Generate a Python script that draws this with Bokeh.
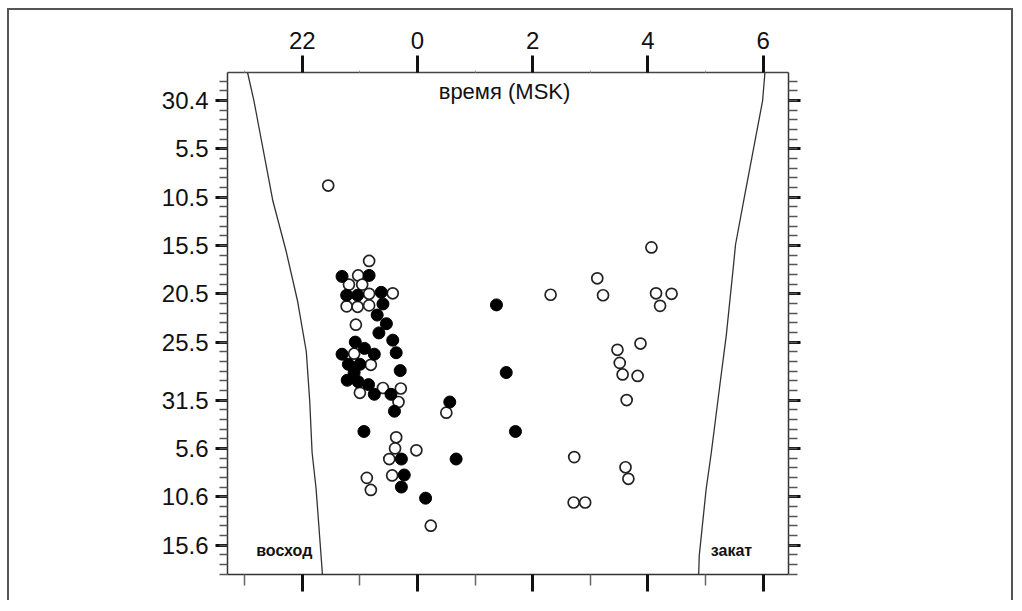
from bokeh.plotting import figure
from bokeh.models import Range1d, LinearAxis, FixedTicker, CustomJSTickFormatter, Label
from bokeh.embed import file_html
from bokeh.resources import INLINE

# time: hours relative to midnight MSK (negative = evening before); date: days after 30 April
open_t = [-1.55, -0.84, -1.03, -1.19, -0.96, -0.84, -0.43, -1.23, -1.04, -0.84, -1.07, -1.10,
          -0.81, -0.60, -0.29, -1.00, -0.33, 0.50, -0.37, -0.39, -0.02, -0.49, -0.44, -0.88,
          -0.81, 0.23, 2.31, 3.12, 3.22, 4.06, 4.14, 4.41, 4.21, 3.87, 3.47, 3.51, 3.56, 3.82,
          3.63, 2.72, 3.61, 3.66, 2.71, 2.91]
open_d = [8.8, 16.6, 18.1, 19.05, 19.05, 20.0, 19.95, 21.3, 21.35, 21.2, 23.2, 26.2, 27.35,
          29.75, 29.8, 30.25, 31.2, 32.3, 34.85, 36.0, 36.2, 37.1, 38.8, 39.05, 40.3, 44.0,
          20.1, 18.4, 20.15, 15.2, 19.95, 20.0, 21.25, 25.15, 25.8, 27.15, 28.35, 28.5, 31.0,
          36.9, 37.95, 39.15, 41.6, 41.6]
fill_t = [-1.31, -0.84, -1.23, -1.04, -0.63, -0.60, -0.70, -0.54, -0.67, -0.43, -1.08, -0.92,
          -1.31, -0.75, -0.37, -1.20, -1.00, -0.30, -1.10, -1.22, -1.03, -0.85, -0.75, -0.46,
          -0.40, 0.56, 1.37, 1.54, 1.70, -0.93, -0.28, 0.67, -0.23, -0.28, 0.14]
fill_d = [18.2, 18.1, 20.15, 20.15, 19.85, 21.05, 22.2, 23.1, 24.05, 24.8, 25.0, 25.65, 26.25,
          26.25, 26.1, 27.3, 27.3, 27.95, 28.15, 28.95, 29.1, 29.4, 30.4, 30.4, 32.15, 31.2,
          21.15, 28.15, 34.25, 34.25, 37.1, 37.1, 38.75, 40.0, 41.15]

left_t = [-2.95, -2.84, -2.51, -2.28, -2.08, -1.93, -1.87, -1.83, -1.76, -1.65]
left_d = [-2.9, 0, 10.4, 15.6, 20.8, 26.0, 31.2, 36.4, 40.2, 49.05]
right_t = [6.03, 5.99, 5.66, 5.52, 5.48, 5.36, 5.24, 5.10, 5.01, 4.89, 4.88]
right_d = [-2.9, 0, 10.4, 14.9, 17.3, 24.25, 29.8, 36.4, 40.2, 47.1, 49.05]

date_ticks = [0, 5, 10, 15, 20, 25, 31, 36, 41, 46]
date_labels = ["30.4", "5.5", "10.5", "15.5", "20.5", "25.5", "31.5", "5.6", "10.6", "15.6"]
date_minor = list(range(-2, 50))
time_ticks = [-2, 0, 2, 4, 6]
time_labels = ["22", "0", "2", "4", "6"]
time_minor = [-3, -1, 1, 3, 5]

FONT = "Liberation Sans"

p = figure(width=1002, height=590, x_range=Range1d(-3.298, 6.439), y_range=Range1d(49.05, -2.9),
           output_backend="svg", toolbar_location=None, title=None, x_axis_location="above",
           min_border_left=218, min_border_right=227, min_border_top=62, min_border_bottom=28,
           background_fill_color="white", border_fill_color="white",
           styles={"box-sizing": "content-box", "margin-left": "7px", "margin-top": "8px",
                   "border-left": "2px solid #555", "border-top": "2px solid #555",
                   "border-right": "2px solid #555"})
p.grid.visible = False
p.outline_line_color = None

JS = "const i = tvals.indexOf(tick); return i >= 0 ? tlabs[i] : '';"
fmt_t = CustomJSTickFormatter(args=dict(tvals=time_ticks, tlabs=time_labels), code=JS)
fmt_d = CustomJSTickFormatter(args=dict(tvals=date_ticks, tlabs=date_labels), code=JS)
blank = CustomJSTickFormatter(code="return '';")

top = p.xaxis[0]
top.ticker = FixedTicker(ticks=time_ticks, minor_ticks=time_minor)
top.formatter = fmt_t
top.axis_line_color = "#444"
top.axis_line_width = 1.5
top.major_tick_out = 17
top.major_tick_in = 0
top.major_tick_line_width = 3
top.major_tick_line_color = "#111"
top.minor_tick_out = 2
top.minor_tick_in = 0
top.minor_tick_line_color = "#999"
top.major_label_text_font = FONT
top.major_label_text_font_size = "24px"
top.major_label_text_color = "#111"
top.major_label_standoff = 7

bottom = LinearAxis(ticker=FixedTicker(ticks=time_ticks, minor_ticks=time_minor), formatter=blank)
bottom.axis_line_color = "#333"
bottom.axis_line_width = 1.5
bottom.major_tick_out = 17
bottom.major_tick_in = 0
bottom.major_tick_line_width = 3
bottom.major_tick_line_color = "#111"
bottom.minor_tick_out = 11
bottom.minor_tick_in = 0
bottom.minor_tick_line_width = 1.5
bottom.minor_tick_line_color = "#666"
p.add_layout(bottom, "below")

left = p.yaxis[0]
left.ticker = FixedTicker(ticks=date_ticks, minor_ticks=date_minor)
left.formatter = fmt_d
left.axis_line_color = "#333"
left.axis_line_width = 1.5
left.major_tick_out = 12
left.major_tick_in = 0
left.major_tick_line_width = 3
left.major_tick_line_color = "#111"
left.minor_tick_out = 8
left.minor_tick_in = 0
left.minor_tick_line_width = 1.5
left.minor_tick_line_color = "#555"
left.major_label_text_font = FONT
left.major_label_text_font_size = "24px"
left.major_label_text_color = "#111"
left.major_label_standoff = 7

right = LinearAxis(ticker=FixedTicker(ticks=date_ticks, minor_ticks=date_minor), formatter=blank)
right.axis_line_color = "#333"
right.axis_line_width = 1.5
right.major_tick_out = 12
right.major_tick_in = 0
right.major_tick_line_width = 3
right.major_tick_line_color = "#111"
right.minor_tick_out = 9
right.minor_tick_in = 0
right.minor_tick_line_width = 1.5
right.minor_tick_line_color = "#555"
p.add_layout(right, "right")

p.line(left_t, left_d, line_color="#333", line_width=1.3)
p.line(right_t, right_d, line_color="#333", line_width=1.3)

p.scatter(open_t, open_d, size=11, fill_color="white", line_color="#222", line_width=1.7)
p.scatter(fill_t, fill_d, size=12, fill_color="black", line_color="black", line_width=1)

p.add_layout(Label(x=-3.66, y=-4.6, text="дата", text_align="right", text_baseline="alphabetic",
                   text_font=FONT, text_font_size="17px", text_color="#111"))
p.add_layout(Label(x=1.51, y=-0.95, text="время (MSK)", text_align="center", text_baseline="middle",
                   text_font=FONT, text_font_size="22px", text_color="#111"))
p.add_layout(Label(x=-2.80, y=46.6, text="восход", text_align="left", text_baseline="middle",
                   text_font=FONT, text_font_size="16px", text_font_style="bold",
                   text_color="#111"))
p.add_layout(Label(x=5.09, y=46.6, text="закат", text_align="left", text_baseline="middle",
                   text_font=FONT, text_font_size="16px", text_font_style="bold",
                   text_color="#111"))

open("out.html", "w").write(file_html(p, INLINE))
